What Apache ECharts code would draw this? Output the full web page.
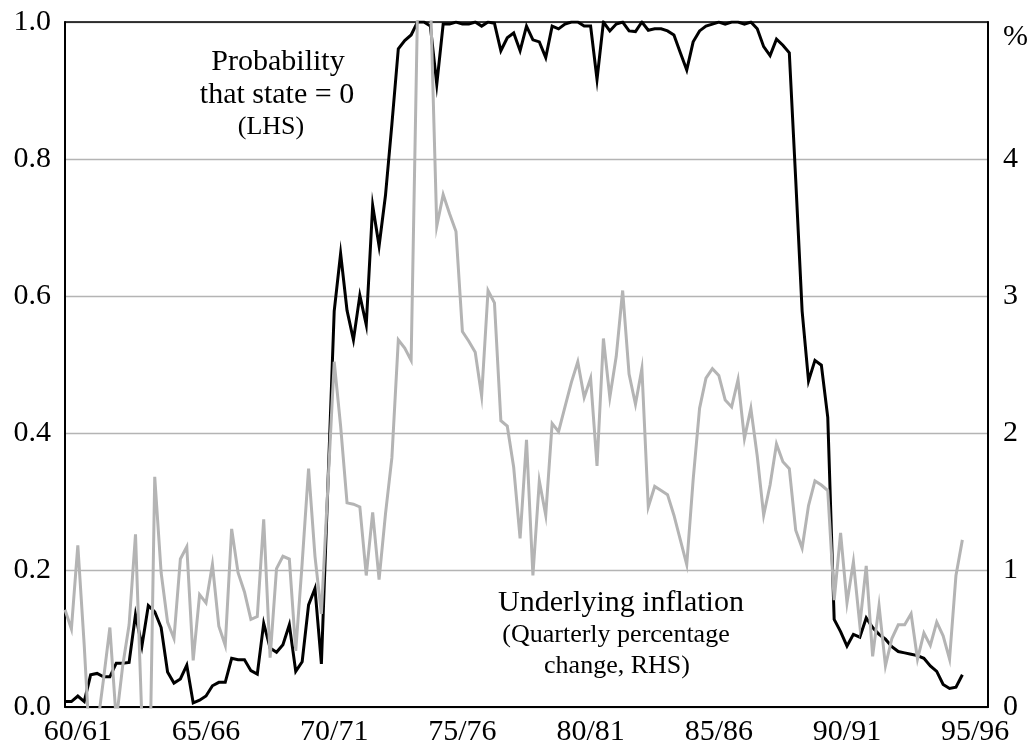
<!DOCTYPE html>
<html>
<head>
<meta charset="utf-8">
<script src="https://cdn.jsdelivr.net/npm/echarts@6/dist/echarts.min.js"></script>
<style>
  html, body { margin: 0; padding: 0; background: #fff; }
  #chart { width: 1031px; height: 747px; }
</style>
</head>
<body>
<div id="chart"></div>
<script>
  // fiscal years on the axis, one tick each
  var years = ['60/61', '61/62', '62/63', '63/64', '64/65', '65/66', '66/67', '67/68', '68/69', '69/70',
    '70/71', '71/72', '72/73', '73/74', '74/75', '75/76', '76/77', '77/78', '78/79', '79/80',
    '80/81', '81/82', '82/83', '83/84', '84/85', '85/86', '86/87', '87/88', '88/89', '89/90',
    '90/91', '91/92', '92/93', '93/94', '94/95', '95/96'];

  // quarterly, starting 60/61 Q1
  var probState0 = [
    0.008, 0.008, 0.016, 0.008, 0.047, 0.049, 0.044, 0.044, 0.064, 0.064,
    0.065, 0.135, 0.089, 0.148, 0.139, 0.116, 0.051, 0.035, 0.041, 0.061,
    0.006, 0.010, 0.016, 0.031, 0.036, 0.036, 0.071, 0.069, 0.069, 0.053,
    0.048, 0.122, 0.086, 0.080, 0.091, 0.120, 0.052, 0.066, 0.149, 0.173,
    0.063, 0.320, 0.578, 0.662, 0.579, 0.536, 0.601, 0.558, 0.732, 0.673,
    0.747, 0.851, 0.961, 0.973, 0.981, 1.000, 1.000, 0.994, 0.909, 0.997,
    0.997, 1.000, 0.997, 0.997, 1.000, 0.994, 1.000, 0.998, 0.958, 0.977,
    0.984, 0.958, 0.994, 0.974, 0.971, 0.948, 0.994, 0.990, 0.997, 1.000,
    1.000, 0.994, 0.994, 0.916, 1.000, 0.987, 0.997, 1.000, 0.987, 0.986,
    1.000, 0.988, 0.990, 0.990, 0.987, 0.981, 0.955, 0.930, 0.971, 0.987,
    0.994, 0.997, 1.000, 0.997, 1.000, 1.000, 0.997, 1.000, 0.990, 0.964,
    0.951, 0.975, 0.966, 0.955, 0.770, 0.578, 0.476, 0.506, 0.499, 0.423,
    0.128, 0.110, 0.089, 0.106, 0.102, 0.130, 0.116, 0.106, 0.099, 0.088,
    0.081, 0.079, 0.077, 0.075, 0.071, 0.060, 0.052, 0.033, 0.027, 0.029,
    0.047];

  var inflation = [
    0.71, 0.57, 1.18, 0.45, -0.40, -0.16, 0.20, 0.58, -0.10, 0.30,
    0.60, 1.26, -0.10, -1.10, 1.68, 0.98, 0.62, 0.50, 1.08, 1.17,
    0.34, 0.82, 0.76, 1.04, 0.59, 0.45, 1.30, 0.98, 0.84, 0.64,
    0.66, 1.37, 0.36, 1.01, 1.10, 1.08, 0.41, 1.05, 1.74, 1.10,
    0.68, 1.60, 2.52, 2.05, 1.49, 1.48, 1.46, 0.96, 1.42, 0.93,
    1.41, 1.82, 2.68, 2.62, 2.53, 5.10, 5.30, 5.20, 3.51, 3.74,
    3.60, 3.47, 2.74, 2.67, 2.59, 2.27, 3.04, 2.95, 2.09, 2.05,
    1.75, 1.23, 1.95, 0.96, 1.65, 1.40, 2.07, 2.01, 2.19, 2.37,
    2.52, 2.26, 2.40, 1.76, 2.69, 2.26, 2.56, 3.04, 2.43, 2.21,
    2.47, 1.46, 1.61, 1.58, 1.55, 1.40, 1.22, 1.04, 1.66, 2.18,
    2.40, 2.47, 2.42, 2.24, 2.19, 2.39, 1.96, 2.18, 1.83, 1.40,
    1.62, 1.92, 1.79, 1.74, 1.29, 1.16, 1.47, 1.65, 1.62, 1.58,
    0.78, 1.27, 0.76, 1.06, 0.60, 1.03, 0.37, 0.74, 0.30, 0.50,
    0.60, 0.60, 0.68, 0.35, 0.54, 0.45, 0.62, 0.52, 0.35, 0.96,
    1.22];

  var leftTicks = [0, 0.2, 0.4, 0.6, 0.8, 1.0];
  var rightTicks = [0, 1, 2, 3, 4, 5];

  var FONT = "'Liberation Serif', 'Times New Roman', serif";
  var GREY = '#b4b4b4';

  function toPairs(arr) {
    return arr.map(function (v, i) { return [i, v]; });
  }

  function note(text, x, y, size) {
    return {
      type: 'text', x: x, y: y,
      style: { text: text, font: size + 'px ' + FONT, fill: '#000', align: 'center', verticalAlign: 'middle' }
    };
  }

  var myChart = echarts.init(document.getElementById('chart'));

  var option = {
    animation: false,
    backgroundColor: '#fff',
    grid: { left: 65, right: 36, top: 22, bottom: 39 },
    xAxis: [
      {
        type: 'category',
        data: years,
        position: 'bottom',
        boundaryGap: true,
        axisLine: { lineStyle: { color: '#000', width: 2 } },
        axisTick: { inside: true, length: 12, interval: 0, lineStyle: { color: '#000', width: 1.5 } },
        axisLabel: { interval: 4, margin: 10, color: '#000', fontFamily: FONT, fontSize: 30 },
        splitLine: { show: false }
      },
      {
        // quarter scale used by the series
        type: 'value',
        position: 'top',
        min: 0,
        max: years.length * 4,
        axisLine: { show: true, onZero: false, lineStyle: { color: '#000', width: 1.5 } },
        axisTick: { show: false },
        axisLabel: { show: false },
        splitLine: { show: false }
      }
    ],
    yAxis: [
      {
        type: 'value',
        position: 'left',
        min: leftTicks[0],
        max: leftTicks[leftTicks.length - 1],
        interval: 0.2,
        axisLine: { show: true, lineStyle: { color: '#000', width: 2 } },
        axisTick: { show: false },
        axisLabel: {
          margin: 14, color: '#000', fontFamily: FONT, fontSize: 30,
          formatter: function (v) { return v.toFixed(1); }
        },
        splitLine: { show: true, lineStyle: { color: GREY, width: 1.3 } }
      },
      {
        type: 'value',
        position: 'right',
        min: rightTicks[0],
        max: rightTicks[rightTicks.length - 1],
        interval: 1,
        axisLine: { show: true, lineStyle: { color: '#000', width: 2 } },
        axisTick: { show: false },
        axisLabel: {
          margin: 15, color: '#000', fontFamily: FONT, fontSize: 30,
          formatter: function (v) { return v === 5 ? '{p|%}' : String(v); },
          rich: { p: { fontFamily: FONT, fontSize: 30, color: '#000', padding: [30, 0, 0, 0] } }
        },
        splitLine: { show: false }
      }
    ],
    series: [
      {
        name: 'Probability that state = 0',
        type: 'line',
        xAxisIndex: 1,
        yAxisIndex: 0,
        data: toPairs(probState0),
        showSymbol: false,
        clip: true,
        lineStyle: { color: '#000', width: 3, join: 'miter' }
      },
      {
        name: 'Underlying inflation',
        type: 'line',
        xAxisIndex: 1,
        yAxisIndex: 1,
        data: toPairs(inflation),
        showSymbol: false,
        clip: true,
        lineStyle: { color: GREY, width: 3, join: 'miter' }
      }
    ],
    graphic: [
      note('Probability', 278, 62, 30),
      note('that state = 0', 277, 95, 30),
      note('(LHS)', 271, 127, 26),
      note('Underlying inflation', 621, 603, 30),
      note('(Quarterly percentage', 616, 635, 26),
      note('change, RHS)', 617, 666, 26)
    ]
  };

  myChart.setOption(option);
</script>
</body>
</html>
